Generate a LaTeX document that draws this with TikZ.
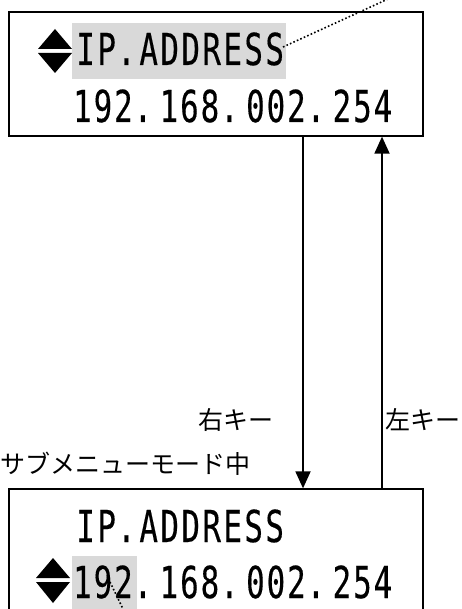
\documentclass[tikz,border=0pt]{standalone}
\usepackage{fontspec}
\usepackage{graphicx}
\usetikzlibrary{arrows.meta}
\newfontfamily\lcdfont[FakeBold=0.4]{DejaVu Sans Mono}
\newfontfamily\jpfont{Noto Sans CJK JP}
\definecolor{hl}{gray}{0.85}
\makeatletter
% #1 = cell width, #2 = width of a period cell, #3 = the text
\newcommand\lcdtext[3]{\def\lcd@c{#1}\def\lcd@p{#2}\lcd@loop#3\relax}
\def\lcd@loop#1{\ifx\relax#1\else\lcd@char{#1}\expandafter\lcd@loop\fi}
\def\lcd@char#1{\if.#1\makebox[\lcd@p][l]{\scalebox{0.7}[1]{.}}\else\makebox[\lcd@c][c]{\scalebox{0.7}[1]{#1}}\fi}
\makeatother
\tikzset{
  panel/.style={draw, line width=1.3pt, minimum width=414pt, inner sep=0pt},
  lcd/.style={font=\lcdfont\fontsize{44}{44}\selectfont, inner sep=0pt, anchor=base west},
  jlabel/.style={font=\jpfont\fontsize{25}{25}\selectfont, inner sep=0pt},
  flow/.style={line width=1.8pt, -{Triangle[width=15pt,length=17pt]}},
  pointer/.style={line width=1.6pt, dash pattern=on 1.6pt off 2.2pt},
  updown/.style={fill=black, draw=none},
}
\begin{document}
\begin{tikzpicture}[x=1pt,y=-1pt]
\useasboundingbox (0,0) rectangle (462,609);
\clip (0,0) rectangle (462,609);
% highlight backgrounds
\fill[hl] (72,23) rectangle (286,79);
\fill[hl] (72,556) rectangle (137,609);
% panels
\node[panel, minimum height=124pt] (top) at (216,74) {};
\node[panel, minimum height=160pt] (bot) at (216,569) {};
% texts
\node[lcd] (t1) at (75,65) {\lcdtext{21pt}{21pt}{IP. ADDRESS}};
\node[lcd] (t2) at (72,122) {\lcdtext{20.5pt}{25pt}{192. 168. 002. 254}};
\node[lcd] (b1) at (75,542) {\lcdtext{21pt}{21pt}{IP. ADDRESS}};
\node[lcd] (b2) at (72,598) {\lcdtext{20.5pt}{25pt}{192. 168. 002. 254}};
% up/down markers
\fill[updown] (55,29) -- (72,49) -- (38,49) -- cycle;
\fill[updown] (38,53) -- (72,53) -- (55,73) -- cycle;
\fill[updown] (53,558) -- (70,578) -- (36,578) -- cycle;
\fill[updown] (36,582) -- (70,582) -- (53,603) -- cycle;
% arrows
\coordinate (xd) at (303,0);
\coordinate (xu) at (382,0);
\draw[flow] (top.south -| xd) -- (bot.north -| xd);
\draw[flow] (bot.north -| xu) -- (top.south -| xu);
% labels
\node[jlabel] (rk) at (236,420) {右キー};
\node[jlabel] (lk) at (423,420) {左キー};
\node[jlabel, anchor=west] (sm) at (0,464) {サブメニューモード中};
% pointers
\coordinate (p1a) at (283,47);
\coordinate (p1b) at (388,-1);
\coordinate (p2a) at (110,582);
\coordinate (p2b) at (124,611);
\draw[pointer] (p1a) -- (p1b);
\draw[pointer] (p2a) -- (p2b);
\end{tikzpicture}
\end{document}
